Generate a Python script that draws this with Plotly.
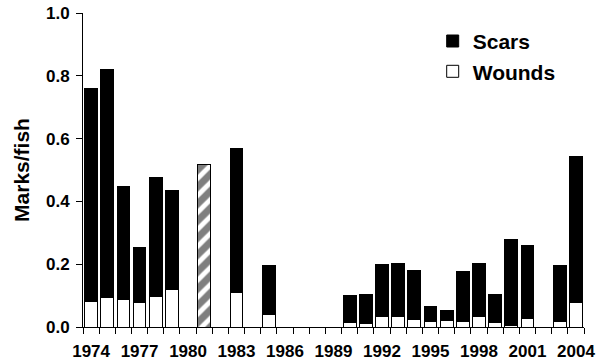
import plotly.graph_objects as go

years = list(range(1974, 2005))
wounds = [0.082, 0.094, 0.088, 0.077, 0.097, 0.119, None, None, None, 0.111,
          None, 0.040, None, None, None, None, 0.013, 0.010, 0.033, 0.033,
          0.025, 0.016, 0.021, 0.016, 0.033, 0.013, 0.005, 0.028, None, 0.016, 0.077]
scars = [0.679, 0.727, 0.358, 0.177, 0.380, 0.317, None, None, None, 0.458,
         None, 0.155, None, None, None, None, 0.087, 0.095, 0.165, 0.168,
         0.156, 0.050, 0.032, 0.162, 0.168, 0.089, 0.274, 0.231, None, 0.179, 0.465]
combined_years = [1981]
combined_total = [0.518]
tick_years = list(range(1974, 2005, 3))

FONT = "Liberation Sans, Arial, sans-serif"

fig = go.Figure()
fig.add_trace(go.Bar(x=years, y=wounds, name="Wounds", legendrank=2,
                     legendgroup="w",
                     marker=dict(color="white", line=dict(color="black", width=1))))
fig.add_trace(go.Bar(x=years, y=scars, name="Scars", legendrank=1,
                     legendgroup="s",
                     marker=dict(color="black", line=dict(color="black", width=1))))
fig.add_trace(go.Bar(x=combined_years, y=combined_total, name="Total", showlegend=False,
                     marker=dict(color="white", line=dict(color="black", width=1),
                                 pattern=dict(shape="/", fgcolor="black", bgcolor="white",
                                              size=12, solidity=0.6))))

fig.update_layout(
    width=603, height=362,
    margin=dict(l=83, r=19, t=13, b=35),
    barmode="stack", bargap=0.21,
    plot_bgcolor="white", paper_bgcolor="white",
    font=dict(family=FONT, size=17, color="black", weight="bold"),
    showlegend=True,
    legend=dict(x=0.698, y=0.975, xanchor="left", yanchor="top",
                font=dict(size=21, weight="bold"), tracegroupgap=0,
                bgcolor="rgba(0,0,0,0)"),
)
fig.update_xaxes(
    range=[1973.5, 2004.5], tickmode="array", tickvals=tick_years,
    ticktext=[str(y) for y in tick_years], ticks="", showgrid=False,
    showline=True, linecolor="black", linewidth=1, zeroline=False,
    tickfont=dict(size=17, weight="bold"), ticklabelstandoff=9, automargin=False,
    minor=dict(ticks="outside", ticklen=6, tickcolor="black", tickmode="linear",
               tick0=1973.5, dtick=1, showgrid=False),
)
fig.update_yaxes(
    range=[0, 1.0], tickmode="linear", tick0=0, dtick=0.2, tickformat=".1f",
    ticks="outside", ticklen=6, tickcolor="black", showgrid=False,
    showline=True, linecolor="black", linewidth=1, zeroline=False,
    tickfont=dict(size=17, weight="bold"), automargin=False, ticklabelstandoff=3,
    title=dict(text="Marks/fish", font=dict(size=21, weight="bold"), standoff=10),
)

fig.write_html("out.html", config={"displayModeBar": False},
               post_script="document.body.style.margin='0px';")
